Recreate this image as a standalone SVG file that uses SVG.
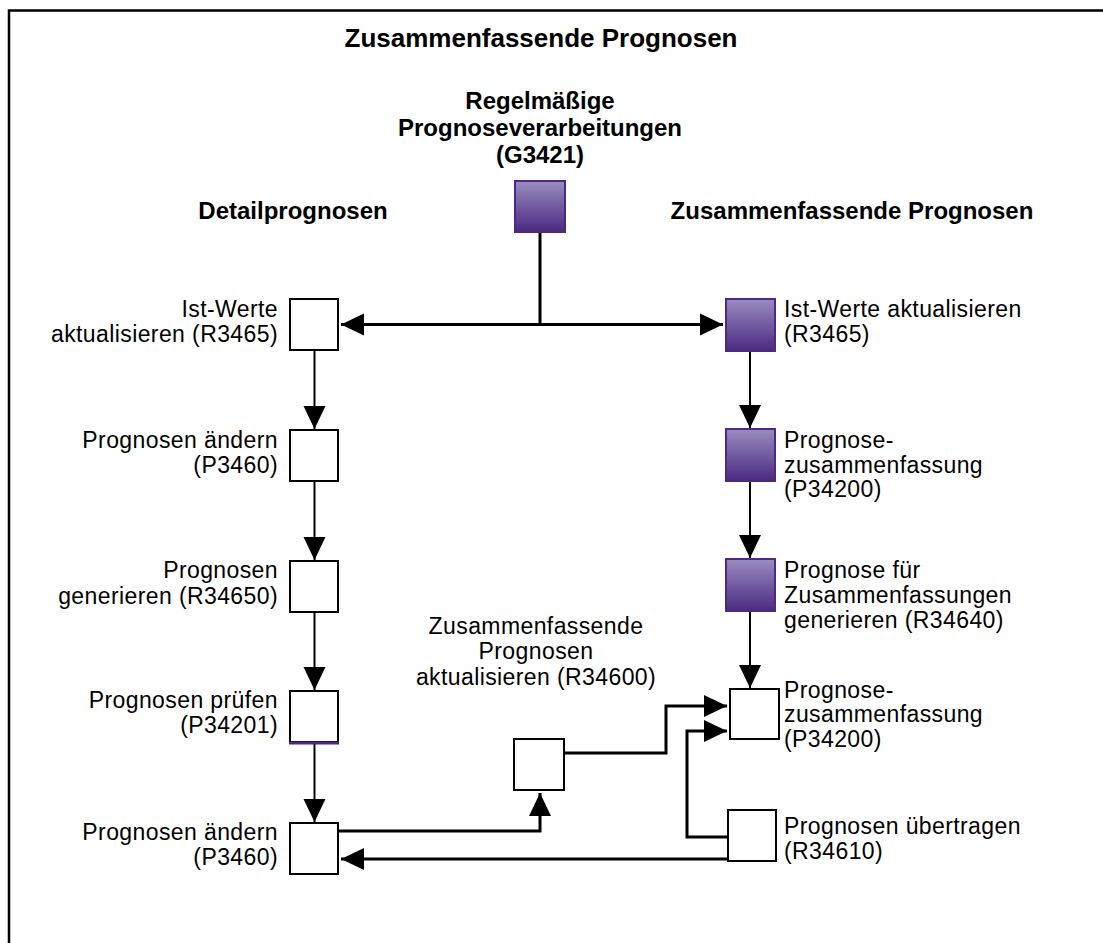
<svg xmlns="http://www.w3.org/2000/svg" width="1103" height="943" viewBox="0 0 1103 943">
  <defs>
    <linearGradient id="purpleFill" x1="0" y1="0" x2="0" y2="1">
      <stop offset="0" stop-color="#9a8cc0"/>
      <stop offset="1" stop-color="#4b2a82"/>
    </linearGradient>
    <marker id="arrow" markerUnits="userSpaceOnUse" markerWidth="24" markerHeight="24" viewBox="0 0 24 24" refX="23" refY="12" orient="auto">
      <path d="M0,1 L23,12 L0,23 z" fill="#000"/>
    </marker>
    <style>
      .frame { fill: none; stroke: #000; stroke-width: 2.5; }
      .box { fill: #fff; stroke: #000; stroke-width: 2; }
      .pbox { fill: url(#purpleFill); stroke: #4b2a82; stroke-width: 2; }
      .wire { fill: none; stroke: #000; stroke-width: 2; }
      .wire3 { fill: none; stroke: #000; stroke-width: 3; }
      .arr { marker-end: url(#arrow); }
      text { font-family: "Liberation Sans", Arial, sans-serif; fill: #000; }
      .title { font-size: 26px; font-weight: bold; }
      .head { font-size: 24px; font-weight: bold; }
      .lbl { font-size: 23px; letter-spacing: 0.4px; }
      .r { text-anchor: end; }
      .c { text-anchor: middle; }
    </style>
  </defs>

  <rect width="1103" height="943" fill="#fff"/>
  <path class="frame" d="M9,943 V10.5 H1103"/>

  <!-- headings -->
  <g id="headings">
    <text class="title c" x="541" y="47">Zusammenfassende Prognosen</text>
    <text class="head c" x="293" y="219">Detailprognosen</text>
    <text class="head c" x="852" y="219">Zusammenfassende Prognosen</text>
  </g>

  <!-- connectors -->
  <g id="connectors">
    <path class="wire3" d="M540,232 V325"/>
    <path class="wire3 arr" d="M540,324.5 H341"/>
    <path class="wire3 arr" d="M540,324.5 H723"/>

    <path class="wire arr" d="M314.5,350 V429"/>
    <path class="wire arr" d="M314.5,481 V560"/>
    <path class="wire arr" d="M314.5,612 V690"/>
    <path class="wire arr" d="M314.5,744 V822"/>

    <path class="wire arr" d="M750,351 V428"/>
    <path class="wire arr" d="M750,481 V558"/>
    <path class="wire arr" d="M750,611 V688"/>

    <path class="wire3 arr" d="M339,831 H540 V793"/>
    <path class="wire3 arr" d="M564,753 H666 V706 H727"/>
    <path class="wire3 arr" d="M727,837 H687 V731 H727"/>
    <path class="wire3 arr" d="M727,859 H341"/>
  </g>

  <g id="n-g3421">
    <text class="head c" x="540" y="109">Regelmäßige</text>
    <text class="head c" x="540" y="136">Prognoseverarbeitungen</text>
    <text class="head c" x="540" y="163">(G3421)</text>
    <rect class="pbox" x="515" y="181" width="50" height="51"/>
  </g>

  <!-- detail column -->
  <g id="n-r3465-detail">
    <rect class="box" x="290" y="299" width="48" height="51"/>
    <text class="lbl r" x="278" y="317">Ist-Werte</text>
    <text class="lbl r" x="278" y="342">aktualisieren (R3465)</text>
  </g>
  <g id="n-p3460-a">
    <rect class="box" x="290" y="430" width="48" height="51"/>
    <text class="lbl r" x="278" y="448">Prognosen ändern</text>
    <text class="lbl r" x="278" y="473">(P3460)</text>
  </g>
  <g id="n-r34650">
    <rect class="box" x="290" y="561" width="48" height="51"/>
    <text class="lbl r" x="278" y="578">Prognosen</text>
    <text class="lbl r" x="278" y="604">generieren (R34650)</text>
  </g>
  <g id="n-p34201">
    <rect class="box" x="290" y="691" width="48" height="51"/>
    <line x1="289" y1="743" x2="339" y2="743" stroke="#4b2a82" stroke-width="3"/>
    <text class="lbl r" x="278" y="708">Prognosen prüfen</text>
    <text class="lbl r" x="278" y="733">(P34201)</text>
  </g>
  <g id="n-p3460-b">
    <rect class="box" x="290" y="823" width="48" height="51"/>
    <text class="lbl r" x="278" y="840">Prognosen ändern</text>
    <text class="lbl r" x="278" y="865">(P3460)</text>
  </g>

  <!-- middle -->
  <g id="n-r34600">
    <rect class="box" x="514" y="739" width="50" height="51"/>
    <text class="lbl c" x="536" y="634">Zusammenfassende</text>
    <text class="lbl c" x="536" y="659">Prognosen</text>
    <text class="lbl c" x="536" y="685">aktualisieren (R34600)</text>
  </g>

  <!-- summary column -->
  <g id="n-r3465-summary">
    <rect class="pbox" x="726" y="299" width="49" height="52"/>
    <text class="lbl" x="784" y="317">Ist-Werte aktualisieren</text>
    <text class="lbl" x="784" y="342">(R3465)</text>
  </g>
  <g id="n-p34200-a">
    <rect class="pbox" x="726" y="429" width="49" height="52"/>
    <text class="lbl" x="784" y="448">Prognose-</text>
    <text class="lbl" x="784" y="473">zusammenfassung</text>
    <text class="lbl" x="784" y="497">(P34200)</text>
  </g>
  <g id="n-r34640">
    <rect class="pbox" x="726" y="559" width="49" height="52"/>
    <text class="lbl" x="784" y="578">Prognose für</text>
    <text class="lbl" x="784" y="603">Zusammenfassungen</text>
    <text class="lbl" x="784" y="628">generieren (R34640)</text>
  </g>
  <g id="n-p34200-b">
    <rect class="box" x="730" y="689" width="49" height="50"/>
    <text class="lbl" x="784" y="698">Prognose-</text>
    <text class="lbl" x="784" y="722">zusammenfassung</text>
    <text class="lbl" x="784" y="747">(P34200)</text>
  </g>
  <g id="n-r34610">
    <rect class="box" x="728" y="810" width="48" height="51"/>
    <text class="lbl" x="784" y="834">Prognosen übertragen</text>
    <text class="lbl" x="784" y="859">(R34610)</text>
  </g>
</svg>
